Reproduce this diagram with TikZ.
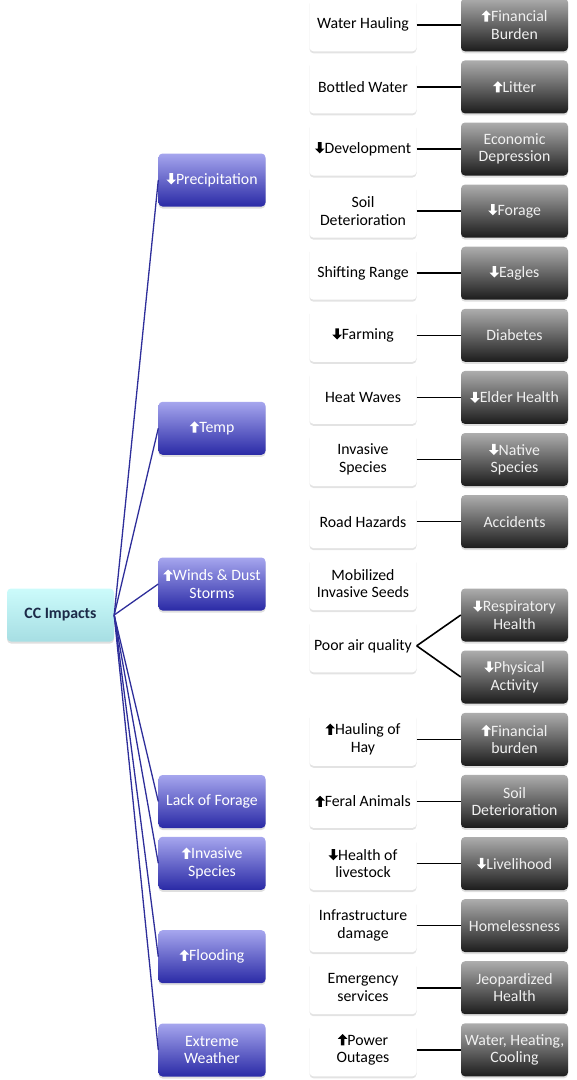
\documentclass[tikz,border=0pt]{standalone}
\usepackage{fontspec}
\setmainfont{Carlito}
\usepackage{tikz}
\usetikzlibrary{shadows}

\definecolor{rootTop}{HTML}{CCFBFB}
\definecolor{rootBot}{HTML}{A6DEE3}
\definecolor{rootText}{HTML}{1C2A48}
\definecolor{purpTop}{HTML}{A6A6EE}
\definecolor{purpBot}{HTML}{2A2AA6}
\definecolor{grayTop}{HTML}{ADADAD}
\definecolor{grayBot}{HTML}{1C1C1C}
\definecolor{linkBlue}{HTML}{2E2E9A}

\newcommand{\uparw}[1]{\tikz[baseline=0pt]\fill[#1,sharp corners] (-1.8pt,0pt) -- (-1.8pt,6.4pt) -- (-4.8pt,6.4pt) -- (0pt,11.2pt) -- (4.8pt,6.4pt) -- (1.8pt,6.4pt) -- (1.8pt,0pt) -- cycle;}
\newcommand{\dnarw}[1]{\tikz[baseline=0pt]\fill[#1,sharp corners] (-1.8pt,11.2pt) -- (-1.8pt,4.8pt) -- (-4.8pt,4.8pt) -- (0pt,0pt) -- (4.8pt,4.8pt) -- (1.8pt,4.8pt) -- (1.8pt,11.2pt) -- cycle;}

\tikzset{
    cellbox/.style={minimum width=107pt, minimum height=53pt, rounded corners=4pt, inner sep=1pt, align=center, font=\fontsize{15.8}{17.6}\selectfont},
    rootbox/.style={cellbox, top color=rootTop, bottom color=rootBot, text=rootText, font=\fontsize{15.8}{17.6}\selectfont\bfseries, drop shadow={opacity=0.25, shadow xshift=0pt, shadow yshift=-2pt}},
    causebox/.style={cellbox, top color=purpTop, bottom color=purpBot, text=white, drop shadow={opacity=0.25, shadow xshift=0pt, shadow yshift=-2pt}},
    effectbox/.style={cellbox, fill=white, text=black, drop shadow={opacity=0.22, shadow xshift=0pt, shadow yshift=-2pt}},
    resultbox/.style={cellbox, top color=grayTop, bottom color=grayBot, text=white!94!black, drop shadow={opacity=0.25, shadow xshift=0pt, shadow yshift=-2pt}},
    bluelink/.style={draw=linkBlue, line width=1.3pt},
    blacklink/.style={draw=black, line width=1.6pt}
}

\begin{document}
\begin{tikzpicture}[x=1pt,y=-1pt]
    \useasboundingbox (0,0) rectangle (577,1080);

    %Root
    \node [rootbox] (root) at (60.5,615) {CC Impacts};

    %Causes
    \node [causebox] (prec) at (212,180) {\dnarw{white}Precipitation};
    \node [causebox] (temp) at (212,428.3) {\uparw{white}Temp};
    \node [causebox] (wind) at (212,584) {\uparw{white}Winds \& Dust\\Storms};
    \node [causebox] (forage) at (212,801.5) {Lack of Forage};
    \node [causebox] (invas) at (212,863.3) {\uparw{white}Invasive\\Species};
    \node [causebox] (flood) at (212,956.7) {\uparw{white}Flooding};
    \node [causebox] (xweather) at (212,1050) {Extreme\\Weather};

    %Effects
    \node [effectbox] (hauling) at (363,24.8) {Water Hauling};
    \node [effectbox] (bottled) at (363,86.9) {Bottled Water};
    \node [effectbox] (develop) at (363,149) {\dnarw{black}Development};
    \node [effectbox] (soil) at (363,211.1) {Soil\\Deterioration};
    \node [effectbox] (range) at (363,273.2) {Shifting Range};
    \node [effectbox] (farming) at (363,335.3) {\dnarw{black}Farming};
    \node [effectbox] (heat) at (363,397.4) {Heat Waves};
    \node [effectbox] (invsp) at (363,459.5) {Invasive\\Species};
    \node [effectbox] (road) at (363,521.6) {Road Hazards};
    \node [effectbox] (seeds) at (363,583.7) {Mobilized\\Invasive Seeds};
    \node [effectbox] (air) at (363,645.8) {Poor air quality};
    \node [effectbox] (hay) at (363,739.3) {\uparw{black}Hauling of\\Hay};
    \node [effectbox] (feral) at (363,801.4) {\uparw{black}Feral Animals};
    \node [effectbox] (stock) at (363,863.5) {\dnarw{black}Health of\\livestock};
    \node [effectbox] (infra) at (363,925.6) {Infrastructure\\damage};
    \node [effectbox] (emerg) at (363,987.7) {Emergency\\services};
    \node [effectbox] (power) at (363,1049.8) {\uparw{black}Power\\Outages};

    %Results
    \node [resultbox] (burden) at (514.5,24.8) {\uparw{white}Financial\\Burden};
    \node [resultbox] (litter) at (514.5,86.9) {\uparw{white}Litter};
    \node [resultbox] (econ) at (514.5,149) {Economic\\Depression};
    \node [resultbox] (forg) at (514.5,211.1) {\dnarw{white}Forage};
    \node [resultbox] (eagles) at (514.5,273.2) {\dnarw{white}Eagles};
    \node [resultbox] (diab) at (514.5,335.3) {Diabetes};
    \node [resultbox] (elder) at (514.5,397.4) {\dnarw{white}Elder Health};
    \node [resultbox] (native) at (514.5,459.5) {\dnarw{white}Native\\Species};
    \node [resultbox] (accid) at (514.5,521.6) {Accidents};
    \node [resultbox] (resp) at (514.5,615) {\dnarw{white}Respiratory\\Health};
    \node [resultbox] (phys) at (514.5,677) {\dnarw{white}Physical\\Activity};
    \node [resultbox] (burden2) at (514.5,739.3) {\uparw{white}Financial\\burden};
    \node [resultbox] (soil2) at (514.5,801.4) {Soil\\Deterioration};
    \node [resultbox] (livel) at (514.5,863.5) {\dnarw{white}Livelihood};
    \node [resultbox] (homeless) at (514.5,925.6) {Homelessness};
    \node [resultbox] (jeop) at (514.5,987.7) {Jeopardized\\Health};
    \node [resultbox] (utility) at (514.5,1049.8) {Water, Heating,\\Cooling};

    %Root links
    \draw [bluelink] (root.east) -- (prec.west);
    \draw [bluelink] (root.east) -- (temp.west);
    \draw [bluelink] (root.east) -- (wind.west);
    \draw [bluelink] (root.east) -- (forage.west);
    \draw [bluelink] (root.east) -- (invas.west);
    \draw [bluelink] (root.east) -- (flood.west);
    \draw [bluelink] (root.east) -- (xweather.west);

    %Effect links
    \draw [blacklink] (hauling.east) -- (burden.west);
    \draw [blacklink] (bottled.east) -- (litter.west);
    \draw [blacklink] (develop.east) -- (econ.west);
    \draw [blacklink] (soil.east) -- (forg.west);
    \draw [blacklink] (range.east) -- (eagles.west);
    \draw [blacklink] (farming.east) -- (diab.west);
    \draw [blacklink] (heat.east) -- (elder.west);
    \draw [blacklink] (invsp.east) -- (native.west);
    \draw [blacklink] (road.east) -- (accid.west);
    \draw [blacklink] (air.east) -- (resp.west);
    \draw [blacklink] (air.east) -- (phys.west);
    \draw [blacklink] (hay.east) -- (burden2.west);
    \draw [blacklink] (feral.east) -- (soil2.west);
    \draw [blacklink] (stock.east) -- (livel.west);
    \draw [blacklink] (infra.east) -- (homeless.west);
    \draw [blacklink] (emerg.east) -- (jeop.west);
    \draw [blacklink] (power.east) -- (utility.west);

\end{tikzpicture}
\end{document}
